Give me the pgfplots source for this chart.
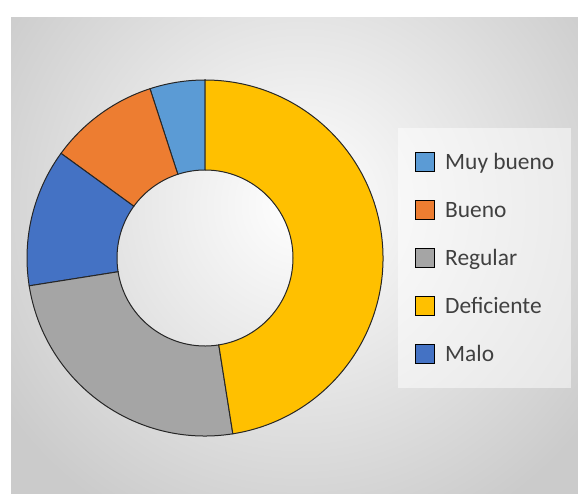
\documentclass[border=0pt]{standalone}
\usepackage{pgfplots}
\pgfplotsset{compat=1.18}
\usepackage{fontspec}
\setmainfont{Carlito}
\definecolor{mbueno}{HTML}{5B9BD5}
\definecolor{bueno}{HTML}{ED7D31}
\definecolor{regular}{HTML}{A5A5A5}
\definecolor{defic}{HTML}{FFC000}
\definecolor{malo}{HTML}{4472C4}
\definecolor{textc}{HTML}{404040}
\definecolor{panelgray}{HTML}{CBCBCB}
\begin{document}
\begin{tikzpicture}
% background panel
\fill[white] (0bp,0bp) rectangle (578bp,495bp);
\begin{scope}
\clip (11bp,1bp) rectangle (578bp,477bp);
\fill[panelgray] (11bp,1bp) rectangle (578bp,477bp);
\shade[inner color=white, outer color=panelgray] (300bp,290bp) circle[radius=360bp];
\end{scope}
\begin{axis}[
  at={(0,0)}, anchor=south west,
  scale only axis, width=578bp, height=495bp,
  xmin=0, xmax=578, ymin=0, ymax=495,
  hide axis, clip=false,
  legend image code/.code={\draw[#1] (0bp,-9.5bp) rectangle (19bp,9.5bp);},
  legend cell align=left,
  legend style={at={(axis cs:398,367)}, anchor=north west,
    draw=none, fill=white, fill opacity=0.5, text opacity=1,
    font=\fontsize{23.5}{28}\selectfont, text=textc,
    inner xsep=17bp, inner ysep=22.5bp, row sep=25bp,
    nodes={inner sep=0pt, text height=19bp, text depth=4bp},
    /tikz/every odd column/.append style={column sep=10bp}},
]
% values (counts), counter-clockwise from 12 o'clock
\def\cum{0}
\def\total{40}
\pgfplotsforeachungrouped \v/\c in {2/mbueno,4/bueno,5/malo,10/regular,19/defic}{%
  \pgfmathsetmacro\aS{90+360*\cum/\total}%
  \pgfmathsetmacro\cumnew{\cum+\v}%
  \xdef\cum{\cumnew}%
  \pgfmathsetmacro\aE{90+360*\cum/\total}%
  \edef\tmp{\noexpand\filldraw[fill=\c, draw=black!85, line width=1bp]
    (axis cs:205,237) ++(\aS:178bp) arc[start angle=\aS, end angle=\aE, radius=178bp]
    -- ++(\aE+180:90bp) arc[start angle=\aE, end angle=\aS, radius=88bp] -- cycle;}%
  \tmp
}
\addlegendimage{fill=mbueno, draw=black, line width=1bp, fill opacity=1, draw opacity=1}
\addlegendentry{Muy bueno}
\addlegendimage{fill=bueno, draw=black, line width=1bp, fill opacity=1, draw opacity=1}
\addlegendentry{Bueno}
\addlegendimage{fill=regular, draw=black, line width=1bp, fill opacity=1, draw opacity=1}
\addlegendentry{Regular}
\addlegendimage{fill=defic, draw=black, line width=1bp, fill opacity=1, draw opacity=1}
\addlegendentry{Deficiente}
\addlegendimage{fill=malo, draw=black, line width=1bp, fill opacity=1, draw opacity=1}
\addlegendentry{Malo}
\end{axis}
\end{tikzpicture}
\end{document}
